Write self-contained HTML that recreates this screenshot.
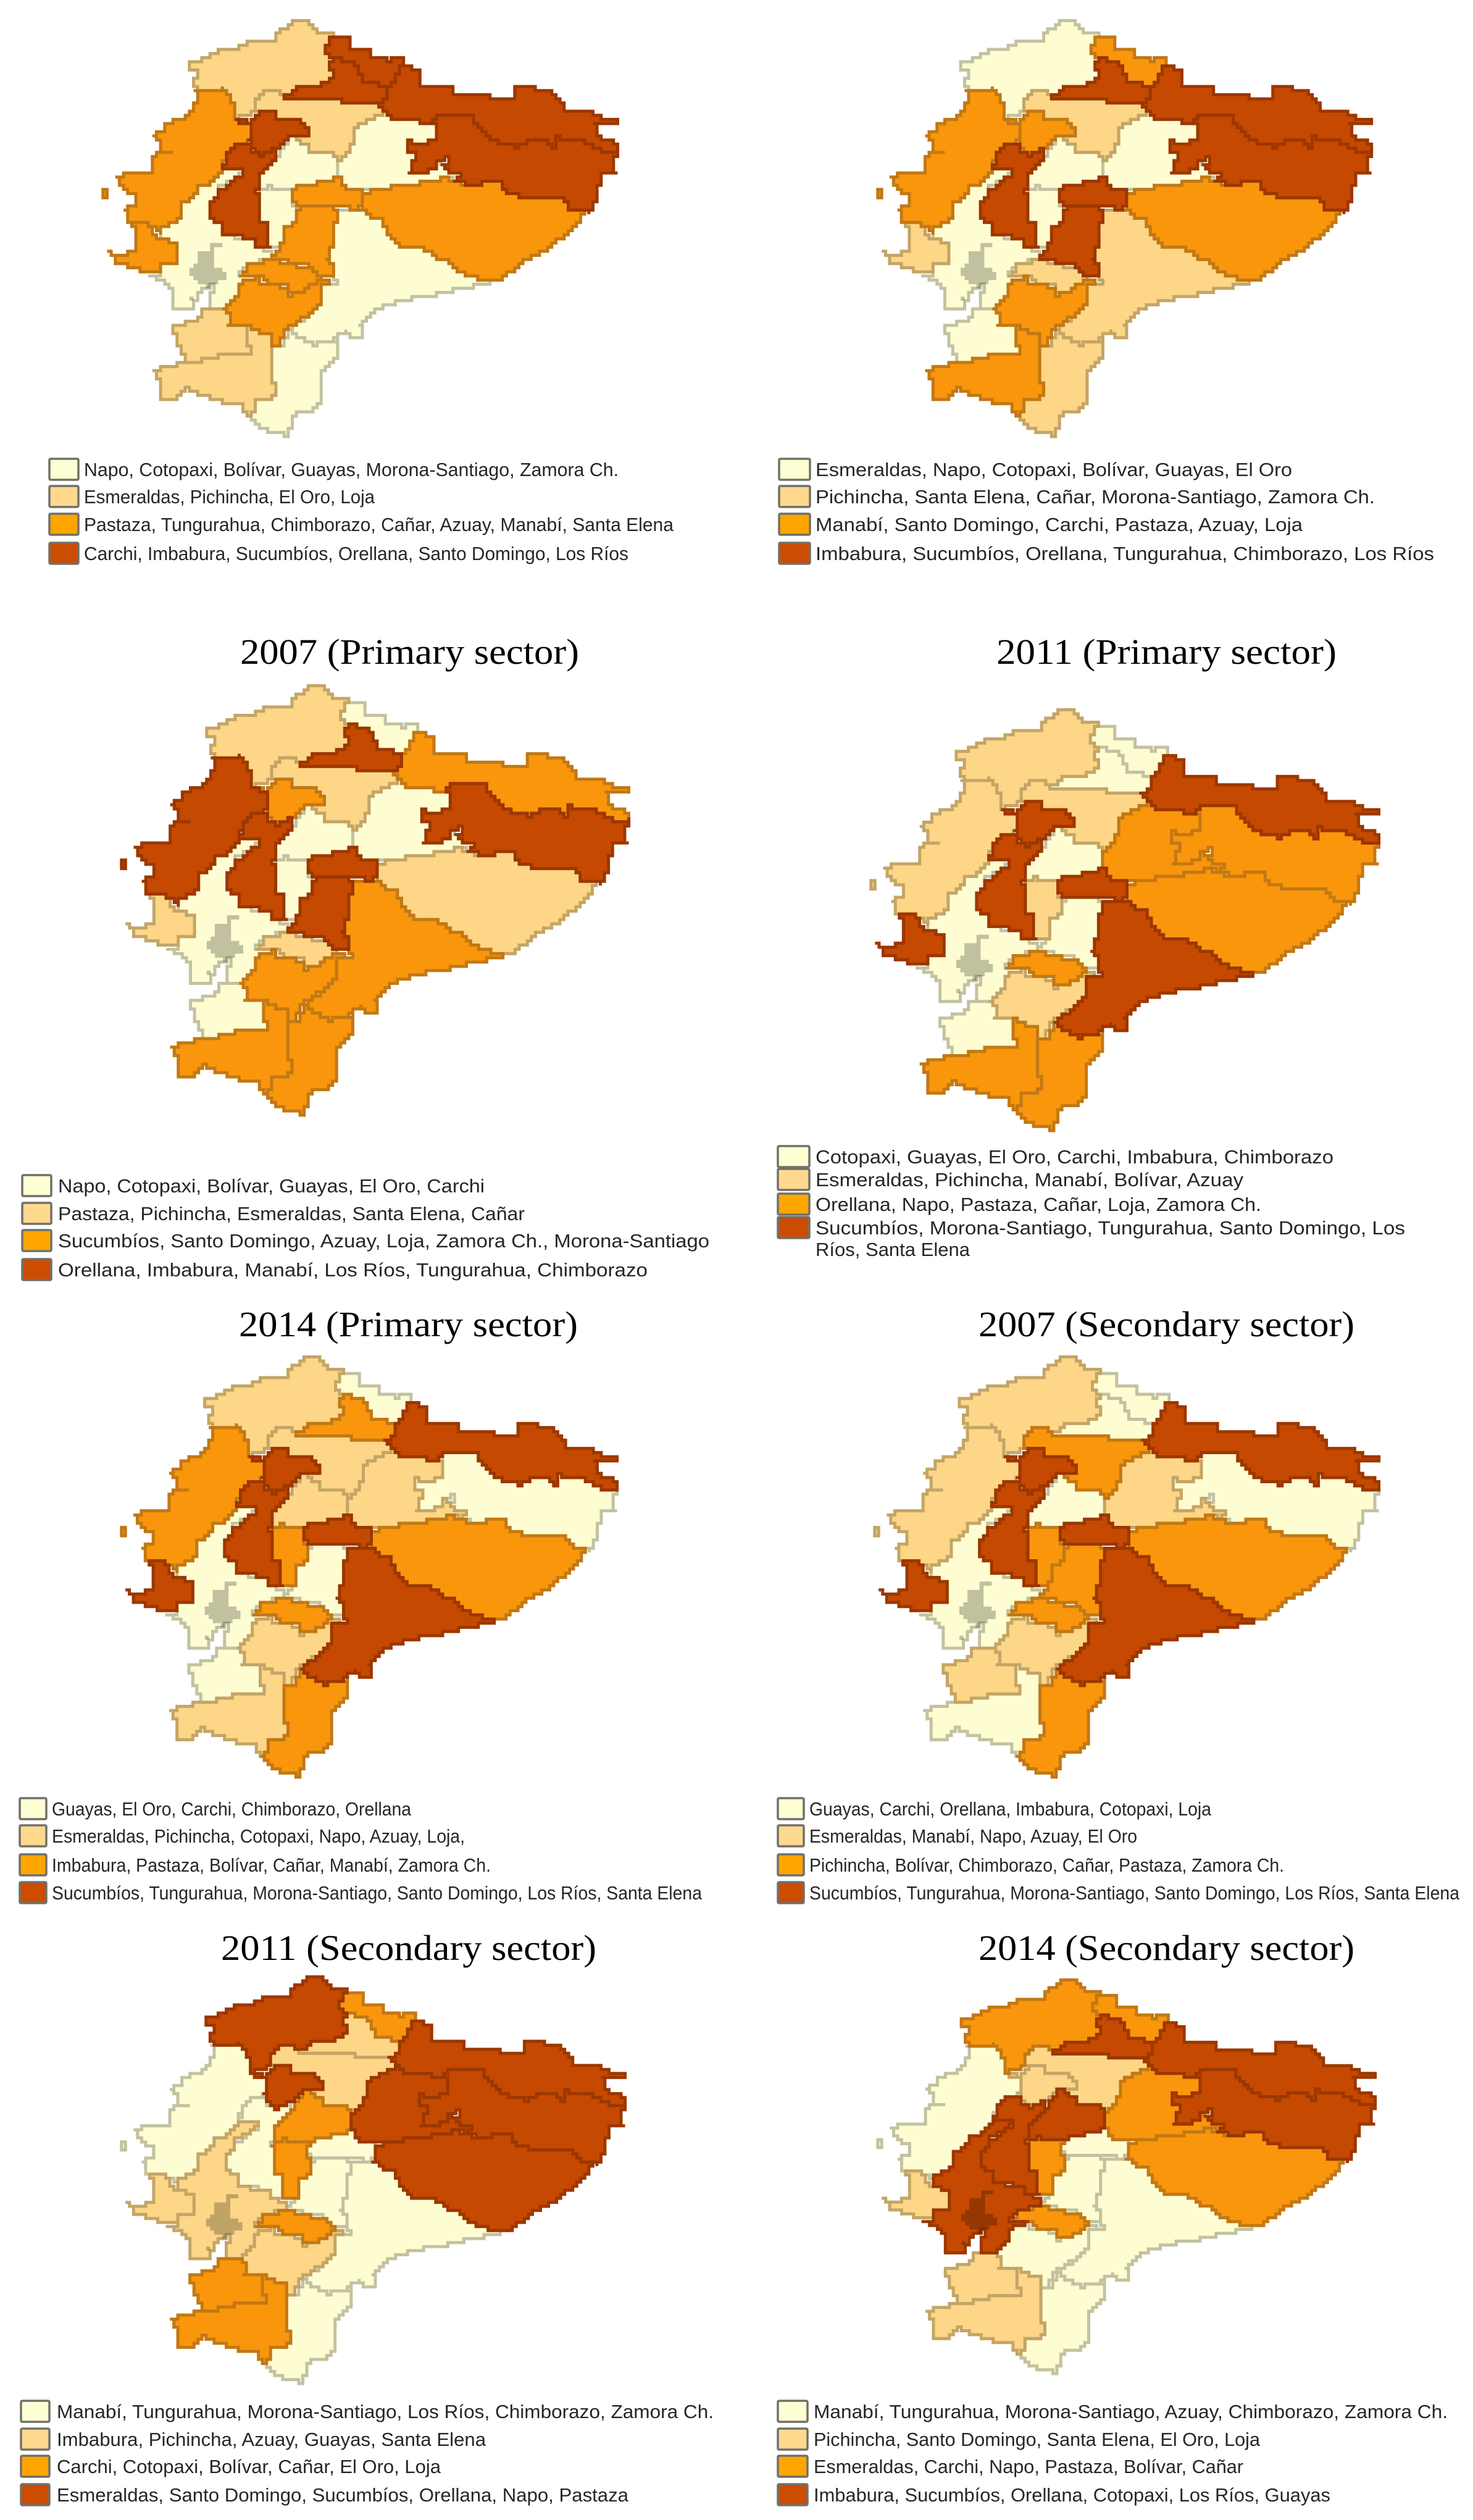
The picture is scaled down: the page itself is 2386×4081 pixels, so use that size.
<!DOCTYPE html>
<html lang="en">
<head>
<meta charset="utf-8">
<title>Ecuador provinces by sector and year</title>
<style>
html,body{margin:0;padding:0;background:#fff;}
svg{display:block;}
.title{font-family:"Liberation Serif",serif;font-size:58px;fill:#000;}
.legend-text{font-family:"Liberation Sans",sans-serif;font-size:31px;fill:#262626;}
</style>
</head>
<body>
<svg id="figure" xmlns="http://www.w3.org/2000/svg" width="2386" height="4081" viewBox="0 0 2386 4081">
  <rect width="2386" height="4081" fill="#ffffff"/>
  <text class="title" x="389" y="1075" textLength="549" lengthAdjust="spacingAndGlyphs">2007 (Primary sector)</text>
  <text class="title" x="1614" y="1075" textLength="551" lengthAdjust="spacingAndGlyphs">2011 (Primary sector)</text>
  <text class="title" x="387" y="2164" textLength="549" lengthAdjust="spacingAndGlyphs">2014 (Primary sector)</text>
  <text class="title" x="1585" y="2164" textLength="609" lengthAdjust="spacingAndGlyphs">2007 (Secondary sector)</text>
  <text class="title" x="358" y="3174" textLength="608" lengthAdjust="spacingAndGlyphs">2011 (Secondary sector)</text>
  <text class="title" x="1585" y="3174" textLength="609" lengthAdjust="spacingAndGlyphs">2014 (Secondary sector)</text>
</svg>
<script>
/* Class membership: each panel lists its four classes, lowest to highest. */
const panelTopLeft = [
  ["Napo","Cotopaxi","Bolívar","Guayas","Morona-Santiago","Zamora Ch."],
  ["Esmeraldas","Pichincha","El Oro","Loja"],
  ["Pastaza","Tungurahua","Chimborazo","Cañar","Azuay","Manabí","Santa Elena"],
  ["Carchi","Imbabura","Sucumbíos","Orellana","Santo Domingo","Los Ríos"]
];
const panelTopRight = [
  ["Esmeraldas","Napo","Cotopaxi","Bolívar","Guayas","El Oro"],
  ["Pichincha","Santa Elena","Cañar","Morona-Santiago","Zamora Ch."],
  ["Manabí","Santo Domingo","Carchi","Pastaza","Azuay","Loja"],
  ["Imbabura","Sucumbíos","Orellana","Tungurahua","Chimborazo","Los Ríos"]
];
const panel2007Primary = [
  ["Napo","Cotopaxi","Bolívar","Guayas","El Oro","Carchi"],
  ["Pastaza","Pichincha","Esmeraldas","Santa Elena","Cañar"],
  ["Sucumbíos","Santo Domingo","Azuay","Loja","Zamora Ch.","Morona-Santiago"],
  ["Orellana","Imbabura","Manabí","Los Ríos","Tungurahua","Chimborazo"]
];
const panel2011Primary = [
  ["Cotopaxi","Guayas","El Oro","Carchi","Imbabura","Chimborazo"],
  ["Esmeraldas","Pichincha","Manabí","Bolívar","Azuay"],
  ["Orellana","Napo","Pastaza","Cañar","Loja","Zamora Ch."],
  ["Sucumbíos","Morona-Santiago","Tungurahua","Santo Domingo","Los Ríos","Santa Elena"]
];
const panel2014Primary = [
  ["Guayas","El Oro","Carchi","Chimborazo","Orellana"],
  ["Esmeraldas","Pichincha","Cotopaxi","Napo","Azuay","Loja"],
  ["Imbabura","Pastaza","Bolívar","Cañar","Manabí","Zamora Ch."],
  ["Sucumbíos","Tungurahua","Morona-Santiago","Santo Domingo","Los Ríos","Santa Elena"]
];
const panel2007Secondary = [
  ["Guayas","Carchi","Orellana","Imbabura","Cotopaxi","Loja"],
  ["Esmeraldas","Manabí","Napo","Azuay","El Oro"],
  ["Pichincha","Bolívar","Chimborazo","Cañar","Pastaza","Zamora Ch."],
  ["Sucumbíos","Tungurahua","Morona-Santiago","Santo Domingo","Los Ríos","Santa Elena"]
];
const panel2011Secondary = [
  ["Manabí","Tungurahua","Morona-Santiago","Los Ríos","Chimborazo","Zamora Ch."],
  ["Imbabura","Pichincha","Azuay","Guayas","Santa Elena"],
  ["Carchi","Cotopaxi","Bolívar","Cañar","El Oro","Loja"],
  ["Esmeraldas","Santo Domingo","Sucumbíos","Orellana","Napo","Pastaza"]
];
const panel2014Secondary = [
  ["Manabí","Tungurahua","Morona-Santiago","Azuay","Chimborazo","Zamora Ch."],
  ["Pichincha","Santo Domingo","Santa Elena","El Oro","Loja"],
  ["Esmeraldas","Carchi","Napo","Pastaza","Bolívar","Cañar"],
  ["Imbabura","Sucumbíos","Orellana","Cotopaxi","Los Ríos","Guayas"]
];

/* Province outlines: base-map geometry in shared map units. */
const provinceShapes = {
  "Guayas":"353,283 358,273 393,277 377,290 353,303 350,320 338,328 338,353 357,367 363,382 407,387 420,403 437,407 437,417 398,427 385,445 397,450 417,448 388,457 388,477 378,483 358,500 337,497 340,480 350,463 337,460 322,473 307,497 283,498 283,467 250,450 242,445 258,443 260,428 280,427 287,417 285,398 257,380 260,367 280,360 293,350 293,327 317,313 320,303 347,293",
  "Esmeraldas":"487,33 503,40 513,52 537,55 532,58 527,77 527,90 538,95 533,103 538,120 533,127 510,140 487,140 460,155 450,148 427,148 413,160 413,180 383,192 380,173 367,153 357,143 323,148 313,143 313,127 320,120 307,113 305,102 330,95 350,85 367,80 393,75 400,68 447,67 450,55 470,40 480,33",
  "Manabí":"313,147 323,148 357,143 367,153 380,173 380,193 405,203 408,220 400,230 373,237 363,260 358,273 353,283 347,293 320,303 317,313 293,327 293,350 280,360 260,367 257,380 233,360 207,360 203,337 218,330 218,317 197,307 190,287 210,278 245,277 245,262 253,250 280,250 257,247 257,227 250,220 265,210 270,198 297,192 310,177 320,160 317,150 M167,310 174,310 174,320 167,320",
  "Santa Elena":"213,360 233,362 250,382 285,398 287,417 280,427 260,428 258,443 237,442 210,432 188,427 175,410 200,412 218,400 217,373",
  "Carchi":"533,58 563,58 570,77 593,83 607,95 633,98 640,92 652,92 652,105 643,123 627,145 610,135 590,132 577,113 567,98 540,95 527,87 527,77",
  "Imbabura":"540,95 567,98 577,113 590,132 610,135 627,145 623,157 607,167 587,168 553,167 547,162 517,162 483,157 467,163 460,155 487,140 510,140 533,127 538,120 533,103",
  "Pichincha":"413,180 413,160 427,148 450,148 460,155 467,163 483,157 517,162 547,162 553,167 587,168 607,167 620,180 600,195 577,202 573,220 567,237 563,247 547,257 537,247 503,250 497,237 480,230 478,223 497,217 503,210 483,195 450,192 448,183 417,183",
  "Santo Domingo":"383,195 403,197 417,183 448,183 450,192 483,195 503,210 497,217 470,217 460,233 443,240 420,252 410,237 400,230 408,220 405,203",
  "Los Ríos":"372,238 400,233 413,250 423,253 447,240 443,263 422,277 420,297 415,313 423,327 423,357 433,367 437,403 420,403 407,387 383,382 363,382 357,367 340,353 338,327 352,320 353,307 383,290 393,277 357,275 368,260",
  "Cotopaxi":"423,277 443,263 460,233 470,223 478,223 480,230 497,237 503,250 537,247 547,257 547,280 548,287 520,295 480,305 457,307 433,303 420,310",
  "Bolívar":"420,310 433,303 457,307 478,307 473,320 475,333 483,337 483,357 460,367 458,400 437,403 433,367 423,357 423,327 415,313",
  "Tungurahua":"478,303 517,295 548,287 557,302 590,310 590,330 577,338 533,335 497,335 478,332 473,320",
  "Chimborazo":"483,337 533,335 547,340 550,357 542,363 542,387 533,400 530,420 537,428 537,450 513,447 493,430 450,420 437,417 450,407 460,387 460,367 483,357",
  "Napo":"620,180 633,193 673,193 680,198 700,197 708,210 707,223 687,232 663,230 657,242 672,253 663,283 680,282 710,263 717,270 733,283 747,283 733,293 723,287 673,297 633,303 600,310 590,310 557,302 548,287 547,280 547,257 563,247 573,220 577,202 600,195",
  "Sucumbíos":"650,107 678,113 678,137 730,143 737,153 770,153 797,157 830,157 837,138 853,140 887,148 917,177 947,178 967,190 1003,193 997,200 963,200 970,223 997,233 1003,243 973,247 943,228 900,223 902,237 893,240 880,228 853,228 833,237 797,227 773,207 763,190 707,190 700,197 680,198 673,193 633,193 620,177 607,167 623,157 627,140 643,123",
  "Orellana":"707,190 763,190 773,207 797,227 833,237 853,228 880,228 893,240 902,237 900,223 943,228 973,247 1003,243 993,253 993,277 1003,282 973,283 967,313 953,345 923,337 910,323 883,318 840,317 813,310 813,293 787,293 763,302 733,293 747,283 733,283 717,270 730,253 710,263 680,282 663,283 672,253 657,242 663,230 687,232 707,223 708,210 700,197",
  "Pastaza":"590,312 600,310 633,303 673,297 723,287 733,295 763,302 787,293 813,293 813,310 840,317 883,318 910,323 927,338 947,343 933,363 900,390 867,413 833,433 808,451 773,451 740,440 733,427 707,417 677,400 647,398 627,380 620,357 593,350 583,337 590,330",
  "Morona-Santiago":"583,337 593,350 620,357 627,380 647,398 677,400 707,417 733,427 740,440 773,451 795,457 709,476 670,482 627,493 610,500 587,520 583,530 585,548 565,548 558,535 552,537 547,548 507,557 487,550 470,533 510,503 523,480 522,463 545,455 537,450 537,428 530,420 533,400 542,387 542,363 550,357 547,340 577,338",
  "Cañar":"398,427 427,423 450,423 483,432 510,440 517,452 493,470 487,475 467,473 463,463 433,463 423,450 397,450 385,445 397,437",
  "Azuay":"388,457 417,448 425,462 463,465 467,477 487,475 493,467 517,453 533,457 522,463 523,480 510,503 470,530 457,540 453,558 440,558 437,543 417,537 397,530 370,527 375,510 358,500 378,483 388,477",
  "El Oro":"330,502 350,500 358,503 375,513 370,527 397,530 397,557 410,560 407,575 363,573 323,585 300,587 290,560 290,545 277,537 277,527 310,522 327,510",
  "Loja":"255,598 300,587 323,585 363,573 407,575 410,560 397,557 397,530 417,537 437,543 440,558 442,617 448,642 413,650 410,667 400,675 393,653 353,650 320,637 300,628 280,647 257,647 263,627 255,613 250,602",
  "Zamora Ch.":"440,558 453,558 470,533 487,550 507,557 547,550 548,557 543,577 523,597 517,647 507,663 477,670 472,687 460,705 423,695 400,677 410,667 413,650 448,642 442,617"
};
const cityShape = "343,392 362,392 350,403 350,433 368,442 368,453 347,457 335,467 322,460 307,450 310,433 317,427 317,407 337,407 M297,477 320,477 310,490";

const fillColors = ["#fefdd2","#fdd687","#f9960c","#c54900"];
const strokeColors = ["#c3c2a0","#c4a566","#c27814","#9c3700"];
const swatchColors = ["#ffffd4","#fed98e","#fea500","#cc4c02"];

/* Panel layout: map box, swatch column, text column, row centres and row right edges. */
const layouts = [
  {key:"top-left",classes:panelTopLeft,box:[167,1004,32,708],sw:[80,127],tx:136,rows:[760,804,849,896],ends:[1002,607,1091,1018]},
  {key:"top-right",classes:panelTopRight,box:[1422,2225,32,708],sw:[1262,1312],tx:1321,rows:[760,804,849,896],ends:[2093,2227,2110,2323]},
  {key:"2007-primary",classes:panel2007Primary,box:[197,1022,1109,1807],sw:[36,83],tx:94,rows:[1920,1965,2009,2056],ends:[785,850,1149,1049]},
  {key:"2011-primary",classes:panel2011Primary,box:[1411,2237,1148,1832],sw:[1260,1311],tx:1321,rows:[1873,1910,1950,1988],ends:[2160,2014,2043,2276],wrap:{row:3,second:"Ríos, Santa Elena",end:1571,y:2023}},
  {key:"2014-primary",classes:panel2014Primary,box:[197,1003,2196,2879],sw:[32,75],tx:84,rows:[2929,2973,3020,3065],ends:[666,753,795,1137],trail:[1]},
  {key:"2007-secondary",classes:panel2007Secondary,box:[1417,2237,2196,2879],sw:[1260,1302],tx:1311,rows:[2929,2973,3020,3065],ends:[1962,1842,2080,2364]},
  {key:"2011-secondary",classes:panel2011Secondary,box:[197,1016,3200,3861],sw:[34,80],tx:92,rows:[3905,3950,3994,4040],ends:[1156,787,714,1018]},
  {key:"2014-secondary",classes:panel2014Secondary,box:[1422,2231,3205,3845],sw:[1260,1308],tx:1318,rows:[3905,3950,3994,4040],ends:[2345,2041,2014,2155]}
];

const SVG_NS = "http://www.w3.org/2000/svg";
const PIXEL = 6.67;
const figure = document.getElementById("figure");
const slug = s => s.toLowerCase().replace(/[^a-z]+/g,"-").replace(/^-|-$/g,"");
const classOf = (classes,name) => classes.findIndex(list => list.includes(name));
const snap = v => Math.round(v/PIXEL)*PIXEL;

/* Walk a segment on the source raster grid so edges keep their blocky look.
   Endpoints are ordered canonically so neighbouring provinces share a staircase. */
function stairSegment(a,b){
  const flip = a[0]>b[0] || (a[0]===b[0] && a[1]>b[1]);
  const p = flip ? b : a, q = flip ? a : b;
  const n = Math.max(1,Math.ceil(Math.max(Math.abs(q[0]-p[0]),Math.abs(q[1]-p[1]))/PIXEL));
  const out = [];
  let last = null;
  for (let i=0;i<=n;i++){
    const x = snap(p[0]+(q[0]-p[0])*i/n), y = snap(p[1]+(q[1]-p[1])*i/n);
    if (last && last[0]!==x && last[1]!==y) out.push([x,last[1]]);
    if (!last || last[0]!==x || last[1]!==y) out.push([x,y]);
    last = [x,y];
  }
  return flip ? out.reverse() : out;
}

function shapeToPath(shape){
  return shape.split(" M").map(ring => {
    const pts = ring.replace(/^M/,"").trim().split(/\s+/).map(s => s.split(",").map(Number));
    let d = [];
    pts.forEach((pt,i) => { d = d.concat(stairSegment(pt,pts[(i+1)%pts.length])); });
    return "M" + d.map(v => v[0].toFixed(1)+","+v[1].toFixed(1)).join("L") + "Z";
  }).join("");
}

const provincePaths = {};
Object.keys(provinceShapes).forEach(name => { provincePaths[name] = shapeToPath(provinceShapes[name]); });
const cityPath = shapeToPath(cityShape);

function drawMap(layout){
  const g = document.createElementNS(SVG_NS,"g");
  
  
  const [x0,x1,y0,y1] = layout.box;
  const sx = (x1-x0)/837, sy = (y1-y0)/676;
  g.setAttribute("transform","translate("+(x0-167*sx)+" "+(y0-32*sy)+") scale("+sx+" "+sy+")");
  const order = Object.keys(provinceShapes).sort((a,b) => classOf(layout.classes,a)-classOf(layout.classes,b));
  order.forEach(name => {
    const c = Math.max(classOf(layout.classes,name),0);
    const p = document.createElementNS(SVG_NS,"path");
    
    
    p.setAttribute("d",provincePaths[name]);
    p.setAttribute("fill",fillColors[c]);
    p.setAttribute("stroke",strokeColors[c]);
    p.setAttribute("stroke-width","5");
    p.setAttribute("stroke-linejoin","miter");
    p.setAttribute("vector-effect","non-scaling-stroke");
    g.appendChild(p);
  });
  const city = document.createElementNS(SVG_NS,"path");
  
  
  city.setAttribute("d",cityPath);
  city.setAttribute("fill","#000000");
  city.setAttribute("fill-opacity","0.24");
  g.appendChild(city);
  figure.appendChild(g);
}

function addLegendText(parts,x,y,end,name){
  const t = document.createElementNS(SVG_NS,"text");
  
  
  t.setAttribute("class","legend-text");
  t.setAttribute("x",x);
  t.setAttribute("y",y);
  t.setAttribute("textLength",end-x);
  t.setAttribute("lengthAdjust","spacingAndGlyphs");
  t.textContent = parts;
  figure.appendChild(t);
}

function drawLegend(layout){
  const [sx0,sx1] = layout.sw;
  layout.classes.forEach((list,i) => {
    const cy = layout.rows[i];
    const r = document.createElementNS(SVG_NS,"rect");
    
    
    r.setAttribute("x",sx0);
    r.setAttribute("y",cy-17);
    r.setAttribute("width",sx1-sx0);
    r.setAttribute("height",34);
    r.setAttribute("rx",2);
    r.setAttribute("fill",swatchColors[i]);
    r.setAttribute("stroke","#70706a");
    r.setAttribute("stroke-width",3.5);
    figure.appendChild(r);
    let text = list.join(", ");
    if (layout.trail && layout.trail.includes(i)) text += ",";
    const rowName = 'legend-entry-' + layout.key + '-' + i;
    if (layout.wrap && layout.wrap.row === i){
      const first = text.slice(0,text.length-layout.wrap.second.length).trim();
      addLegendText(first,layout.tx,cy+11,layout.ends[i],rowName);
      addLegendText(layout.wrap.second,layout.tx,layout.wrap.y+11,layout.wrap.end,rowName + '-continued');
    } else {
      addLegendText(text,layout.tx,cy+11,layout.ends[i],rowName);
    }
  });
}

layouts.forEach(l => { drawMap(l); drawLegend(l); });
</script>
</body>
</html>
